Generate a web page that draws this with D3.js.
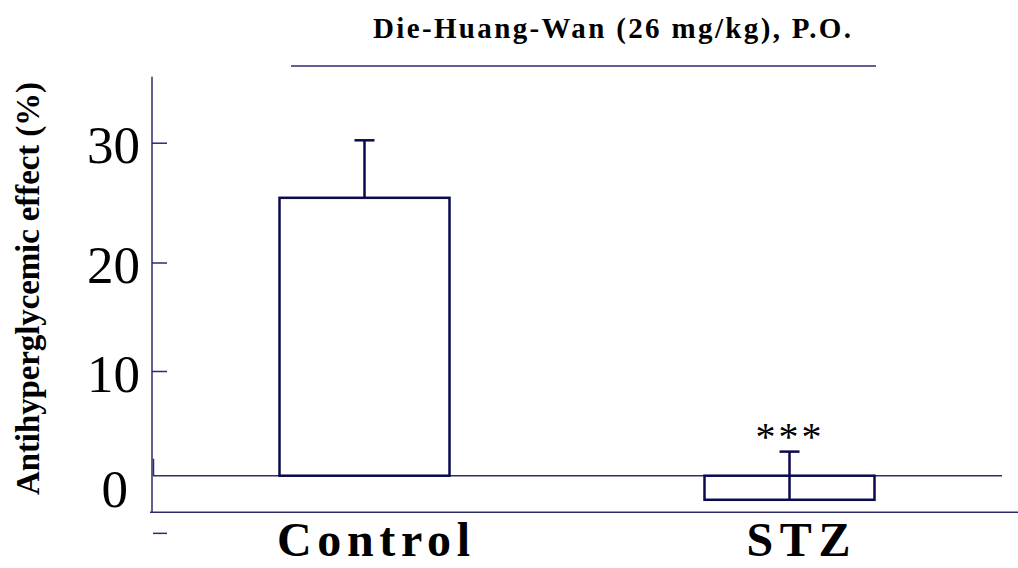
<!DOCTYPE html>
<html lang="en">
<head>
<meta charset="UTF-8">
<title>Die-Huang-Wan antihyperglycemic effect</title>
<style>
  body { margin: 0; background: #ffffff; }
  svg text { font-family: "Liberation Serif", "Times New Roman", serif; fill: #000000; }
  line.axis { stroke: #2c2c6c; stroke-width: 1.5; }
  rect.bar { fill: #ffffff; stroke: #0a0a4c; stroke-width: 2.5; }
  line.err { stroke: #0a0a4c; stroke-width: 2.5; }
  .tick text { font-size: 53px; }
  .tick line { stroke: #2c2c6c; stroke-width: 1.5; }
</style>
</head>
<body>
<div id="chart"></div>
<script src="https://cdn.jsdelivr.net/npm/d3@7"></script>
<script>
var groups = ["Control", "STZ"];
var means = [25.4, -2.3];
var sems = [4.8, 4.6];
var stars = ["", "***"];
var yTicks = [0, 10, 20, 30];
var title = "Die-Huang-Wan (26 mg/kg), P.O.";
var yTitle = "Antihyperglycemic effect (%)";

(function() {
  var W = 1018, H = 568;
  var svg = d3.select("#chart").append("svg")
      .attr("width", W)
      .attr("height", H);

  var x0 = 152, x1 = 1002;

  // the original figure's tick spacing is not uniform, so a piecewise scale
  var y = d3.scaleLinear()
      .domain([0, 10, 20, 30])
      .range([475.7, 371, 262.5, 142.7]);

  var x = d3.scaleBand()
      .domain(groups)
      .range([x0, x1])
      .paddingInner(0.6)
      .paddingOuter(0.3);

  // title and rule under it
  svg.append("text")
      .attr("x", 373)
      .attr("y", 38)
      .attr("textLength", 478)
      .attr("lengthAdjust", "spacing")
      .style("font-size", "29px")
      .style("font-weight", "bold")
      .text(title);
  svg.append("line").classed("axis", true)
      .attr("x1", 291).attr("x2", 876)
      .attr("y1", 66).attr("y2", 66);

  // y title
  svg.append("text")
      .attr("transform", "translate(39," + 495 + ") rotate(-90)")
      .attr("textLength", 413)
      .attr("lengthAdjust", "spacing")
      .style("font-size", "33px")
      .style("font-weight", "bold")
      .text(yTitle);

  // frame lines
  svg.append("line").classed("axis", true)
      .attr("x1", x0).attr("x2", x0)
      .attr("y1", y(35.5)).attr("y2", y(-3.5));
  svg.append("line").classed("axis", true)
      .attr("x1", x0 - 2).attr("x2", W)
      .attr("y1", y(-3.5)).attr("y2", y(-3.5));
  svg.append("line").classed("axis", true)
      .attr("x1", x0 + 1).attr("x2", x1)
      .attr("y1", y(0)).attr("y2", y(0));
  svg.append("line").classed("axis", true)
      .attr("x1", x0 + 1.5).attr("x2", x0 + 1.5)
      .attr("y1", y(0) - 17).attr("y2", y(0));
  svg.append("line").classed("axis", true)
      .attr("x1", x0 + 1).attr("x2", x0 + 15)
      .attr("y1", y(-3.5) + 21).attr("y2", y(-3.5) + 21);

  // y axis ticks
  var gy = svg.append("g")
      .attr("transform", "translate(" + x0 + ",0)")
      .call(d3.axisLeft(y).tickValues(yTicks).tickSize(-15).tickPadding(12).tickFormat(d3.format("d")));
  gy.select(".domain").remove();
  gy.selectAll(".tick text")
      .attr("dy", "0.38em")
      .attr("fill", "#000");
  gy.selectAll(".tick").filter(function(d) { return d === 0; })
      .each(function() {
        var t = d3.select(this);
        t.select("line").remove();
        t.select("text").attr("x", -24).attr("dy", "0.58em");
      });

  // bars
  var bars = svg.selectAll("g.grp").data(groups).enter().append("g").attr("class", "grp");

  bars.append("rect").classed("bar", true)
      .attr("x", function(d) { return x(d); })
      .attr("width", x.bandwidth())
      .attr("y", function(d, i) { return Math.min(y(0), y(means[i])); })
      .attr("height", function(d, i) { return Math.abs(y(means[i]) - y(0)); });

  bars.append("line").classed("err", true)
      .attr("x1", function(d) { return x(d) + x.bandwidth() / 2; })
      .attr("x2", function(d) { return x(d) + x.bandwidth() / 2; })
      .attr("y1", function(d, i) { return y(means[i]); })
      .attr("y2", function(d, i) { return y(means[i] + sems[i]); });

  bars.append("line").classed("err", true)
      .attr("x1", function(d) { return x(d) + x.bandwidth() / 2 - 10; })
      .attr("x2", function(d) { return x(d) + x.bandwidth() / 2 + 10; })
      .attr("y1", function(d, i) { return y(means[i] + sems[i]); })
      .attr("y2", function(d, i) { return y(means[i] + sems[i]); });

  bars.filter(function(d, i) { return stars[i] !== ""; })
    .append("text")
      .attr("x", function(d) { return x(d) + x.bandwidth() / 2 - 34; })
      .attr("y", function(d) { var i = groups.indexOf(d); return y(means[i] + sems[i]) - 2; })
      .attr("textLength", 66)
      .attr("lengthAdjust", "spacing")
      .style("font-size", "40px")
      .text(function(d) { return stars[groups.indexOf(d)]; });

  // group labels
  var labW = { "Control": 193, "STZ": 104 };
  bars.append("text")
      .attr("x", function(d) { return x(d) + x.bandwidth() / 2 + 9 - labW[d] / 2; })
      .attr("y", 556)
      .attr("textLength", function(d) { return labW[d]; })
      .attr("lengthAdjust", "spacing")
      .style("font-size", "48px")
      .style("font-weight", "bold")
      .text(function(d) { return d; });
})();
</script>
</body>
</html>
